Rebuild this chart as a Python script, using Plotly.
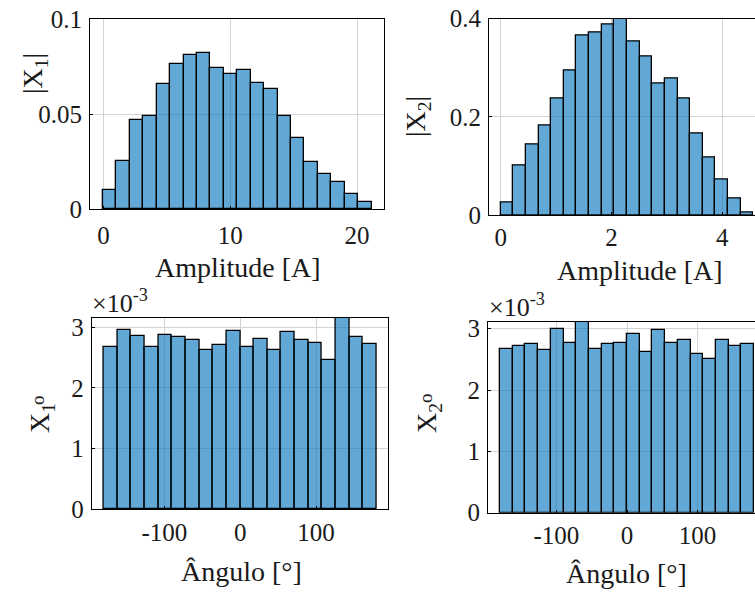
import numpy as np
import plotly.graph_objects as go

W, H = 755, 592

# ---------------- data ----------------
amp1_pdf = [0.0101, 0.0255, 0.0469, 0.0490, 0.0659, 0.0762, 0.0813, 0.0822, 0.0740, 0.0713,
            0.0733, 0.0661, 0.0631, 0.0491, 0.0376, 0.0248, 0.0185, 0.0140, 0.0080, 0.0037]
amp1_bin_lo, amp1_bin_hi = -0.05, 21.15

amp2_pdf = [0.0259, 0.1007, 0.1429, 0.1823, 0.2367, 0.2946, 0.3653, 0.3707, 0.3878, 0.4014,
            0.3524, 0.3231, 0.2687, 0.2776, 0.2367, 0.1667, 0.1170, 0.0714, 0.0340, 0.0054]
amp2_bin_lo, amp2_bin_hi = 0.0, 4.56

ang1_pdf_e3 = [2.675, 2.951, 2.852, 2.670, 2.879, 2.835, 2.785, 2.625, 2.714, 2.945,
               2.670, 2.807, 2.625, 2.923, 2.785, 2.741, 2.460, 3.155, 2.835, 2.725]
ang2_pdf_e3 = [2.664, 2.713, 2.756, 2.659, 3.000, 2.773, 3.109, 2.664, 2.756, 2.773,
               2.919, 2.615, 2.984, 2.773, 2.821, 2.594, 2.501, 2.821, 2.724, 2.756]
ang_bin_lo, ang_bin_hi = -180.0, 180.0

amp1_ticks = [0, 10, 20]
amp1_yticks = [0, 0.05, 0.1]
amp1_yticktext = ["0", "0.05", "0.1"]
amp2_ticks = [0, 2, 4]
amp2_yticks = [0, 0.2, 0.4]
amp2_yticktext = ["0", "0.2", "0.4"]
ang_ticks = [-100, 0, 100]
ang_ticktext = ["-100", "0", "100"]
ang_yticks_e3 = [0, 1, 2, 3]

xlabel_amp = "Amplitude [A]"
xlabel_ang = "Ângulo [°]"
# ----------------------------------------------------------------

FONT = "Liberation Serif"
BAR_FILL = "rgba(0,114,189,0.62)"
GRID = "#d4d4d4"
TXT = "#1a1a1a"


def bins(lo, hi, n):
    edges = np.linspace(lo, hi, n + 1)
    return (edges[:-1] + edges[1:]) / 2, edges[1] - edges[0]


def px_x(p):
    return p / W


def px_y(p):
    return 1 - p / H


fig = go.Figure()

panels = [
    (amp1_pdf, amp1_bin_lo, amp1_bin_hi, ""),
    (amp2_pdf, amp2_bin_lo, amp2_bin_hi, "2"),
    ([v * 1e-3 for v in ang1_pdf_e3], ang_bin_lo, ang_bin_hi, "3"),
    ([v * 1e-3 for v in ang2_pdf_e3], ang_bin_lo, ang_bin_hi, "4"),
]
for vals, lo, hi, sfx in panels:
    c, w = bins(lo, hi, len(vals))
    fig.add_trace(go.Bar(
        x=c, y=vals, width=w,
        marker=dict(color=BAR_FILL, line=dict(color="black", width=1.3)),
        xaxis="x" + sfx, yaxis="y" + sfx, showlegend=False, hoverinfo="skip",
    ))

tickfont = dict(family=FONT, size=25, color=TXT)


def xax(domain, rng, tickvals, anchor, ticktext=None, standoff=3):
    d = dict(domain=domain, range=rng, tickvals=tickvals, anchor=anchor,
             showgrid=True, gridcolor=GRID, gridwidth=1, zeroline=False,
             showline=True, linecolor="black", linewidth=1, mirror=True,
             ticks="inside", ticklen=3, tickcolor="black", tickfont=tickfont,
             ticklabelstandoff=standoff, automargin=False)
    if ticktext is not None:
        d["ticktext"] = ticktext
    return d


def yax(domain, rng, tickvals, ticktext, anchor, mirror=True):
    return dict(domain=domain, range=rng, tickvals=tickvals, ticktext=ticktext, anchor=anchor,
                showgrid=True, gridcolor=GRID, gridwidth=1, zeroline=False,
                showline=True, linecolor="black", linewidth=1, mirror=mirror,
                ticks="inside", ticklen=3, tickcolor="black", tickfont=tickfont,
                ticklabelstandoff=2, automargin=False)


fig.update_layout(
    template="none",
    width=W, height=H,
    margin=dict(l=0, r=0, t=0, b=0, pad=0, autoexpand=False),
    paper_bgcolor="white", plot_bgcolor="white",
    bargap=0,
    xaxis=xax([px_x(90), px_x(384)], [-1.065, 22.12], amp1_ticks, "y", standoff=4),
    yaxis=yax([px_y(209), px_y(19)], [0, 0.1], amp1_yticks, amp1_yticktext, "x"),
    xaxis2=xax([px_x(489), px_x(755)], [-0.211, 4.59], amp2_ticks, "y2", standoff=0),
    yaxis2=yax([px_y(215), px_y(18.5)], [0, 0.4], amp2_yticks, amp2_yticktext, "x2", mirror=False),
    xaxis3=xax([px_x(91.7), px_x(388)], [-196, 195], ang_ticks, "y3", ang_ticktext, standoff=1),
    yaxis3=yax([px_y(509), px_y(318)], [0, 3.155e-3], [v * 1e-3 for v in ang_yticks_e3],
               [str(v) for v in ang_yticks_e3], "x3"),
    xaxis4=xax([px_x(488), px_x(755)], [-197, 181.4], ang_ticks, "y4", ang_ticktext, standoff=0),
    yaxis4=yax([px_y(512.7), px_y(322)], [0, 3.109e-3], [v * 1e-3 for v in ang_yticks_e3],
               [str(v) for v in ang_yticks_e3], "x4", mirror=False),
)

lab = dict(family=FONT, size=28, color=TXT)


def ann(text, x, y, angle=0, font=lab, xanchor="center", yanchor="middle"):
    fig.add_annotation(text=text, x=px_x(x), y=px_y(y), xref="paper", yref="paper",
                       showarrow=False, textangle=angle, font=font,
                       xanchor=xanchor, yanchor=yanchor)


# x labels
ann(xlabel_amp, 238, 267)
ann(xlabel_amp, 640, 270)
ann(xlabel_ang, 241, 571)
ann(xlabel_ang, 626, 573)

# y labels
ann("|X<sub>1</sub>|", 34, 74, angle=-90)
ann("|X<sub>2</sub>|", 418, 117, angle=-90)
ann("X<sub>1</sub>", 42, 418, angle=-90)
ann("o", 37, 400, angle=-90, font=dict(family=FONT, size=19, color=TXT))
ann("X<sub>2</sub>", 429, 418, angle=-90)
ann("o", 425, 398, angle=-90, font=dict(family=FONT, size=19, color=TXT))

# exponent labels
expfont = dict(family=FONT, size=26, color=TXT)
ann("×10<sup>-3</sup>", 90, 320, font=expfont, xanchor="left", yanchor="bottom")
ann("×10<sup>-3</sup>", 487, 324, font=expfont, xanchor="left", yanchor="bottom")

fig.write_html(
    "out.html",
    config={"displayModeBar": False, "responsive": False},
    post_script="document.body.style.margin='0';document.body.style.overflow='hidden';",
)
